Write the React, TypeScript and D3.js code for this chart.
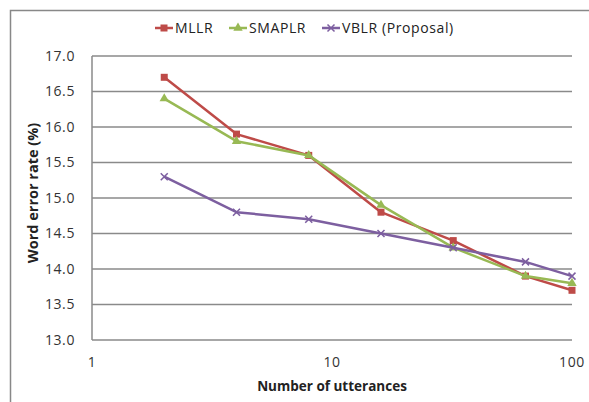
import React from "react";
import * as d3 from "d3";

const utterances = [2, 4, 8, 16, 32, 64, 100];
const mllr = [16.7, 15.9, 15.6, 14.8, 14.4, 13.9, 13.7];
const smaplr = [16.4, 15.8, 15.6, 14.9, 14.3, 13.9, 13.8];
const vblr = [15.3, 14.8, 14.7, 14.5, 14.3, 14.1, 13.9];
const yTicks = [13.0, 13.5, 14.0, 14.5, 15.0, 15.5, 16.0, 16.5, 17.0];
const xTicks = [1, 10, 100];

const seriesNames = ["MLLR", "SMAPLR", "VBLR (Proposal)"];
const seriesColors = ["#BE4B48", "#98B954", "#7D5FA0"];
const seriesValues = [mllr, smaplr, vblr];

const font = "'Open Sans', 'Liberation Sans', sans-serif";

function Marker({ kind, x, y, color }: { kind: number; x: number; y: number; color: string }) {
  if (kind === 0) return <rect x={x - 3.5} y={y - 3.5} width={7} height={7} fill={color} />;
  if (kind === 1) {
    const p = d3.symbol(d3.symbolTriangle, 38)()!;
    return <path d={p} transform={`translate(${x},${y})`} fill={color} />;
  }
  return (
    <path d={`M${x - 3.5},${y - 3.5}L${x + 3.5},${y + 3.5}M${x - 3.5},${y + 3.5}L${x + 3.5},${y - 3.5}`}
      stroke={color} strokeWidth={1.5} />
  );
}

export default function App() {
  const width = 589, height = 402;
  const left = 92, right = 572, top = 56, bottom = 340;
  const x = d3.scaleLog().domain([1, 100]).range([left, right]);
  const y = d3.scaleLinear().domain([13, 17]).range([bottom, top]);
  const line = d3.line<number>().x((_, i) => x(utterances[i])).y((d) => y(d));

  const legendX = [164, 238, 331];
  return (
    <svg width={width} height={height} style={{ position: "absolute", left: 0, top: 0 }}>
      <rect x={0} y={0} width={width} height={height} fill="#fff" />
      <path d={`M10.5,${height}V10.5H${width}`} fill="none" stroke="#888" strokeWidth={1.5} />
      {yTicks.map((t) => (
        <g key={t}>
          <line x1={left} x2={right} y1={y(t)} y2={y(t)} stroke="#8a8a8a" strokeWidth={1.5} />
          <text x={75} y={y(t)} dy="0.35em" textAnchor="end" fontFamily={font} fontSize={14}
            letterSpacing={0.6} fill="#333">
            {t.toFixed(1)}
          </text>
        </g>
      ))}
      <line x1={left} x2={left} y1={top} y2={bottom} stroke="#8a8a8a" strokeWidth={1.5} />
      {xTicks.map((t) => (
        <text key={t} x={x(t)} y={362} dy="0.35em" textAnchor="middle" fontFamily={font} fontSize={14}
          letterSpacing={0.6} fill="#333">
          {t}
        </text>
      ))}
      <text x={(left + right) / 2} y={386} dy="0.35em" textAnchor="middle" fontFamily={font} fontSize={13.5}
        fontWeight="bold" fill="#222">Number of utterances</text>
      <text transform={`translate(33,193) rotate(-90)`} dy="0.35em" textAnchor="middle"
        fontFamily={font} fontSize={14.5} fontWeight="bold" fill="#222">Word error rate (%)</text>
      {seriesValues.map((vals, s) => (
        <g key={s}>
          <path d={line(vals)!} fill="none" stroke={seriesColors[s]} strokeWidth={2.5} strokeLinejoin="round" />
          {vals.map((v, i) => (
            <Marker key={i} kind={s} x={x(utterances[i])} y={y(v)} color={seriesColors[s]} />
          ))}
        </g>
      ))}
      {seriesNames.map((n, s) => (
        <g key={n}>
          <line x1={legendX[s] - 9} x2={legendX[s] + 9} y1={28} y2={28} stroke={seriesColors[s]} strokeWidth={2.5} />
          <Marker kind={s} x={legendX[s]} y={28} color={seriesColors[s]} />
          <text x={legendX[s] + 11} y={28} dy="0.35em" fontFamily={font} fontSize={14}
            letterSpacing={0.6} fill="#222">{n}</text>
        </g>
      ))}
    </svg>
  );
}
